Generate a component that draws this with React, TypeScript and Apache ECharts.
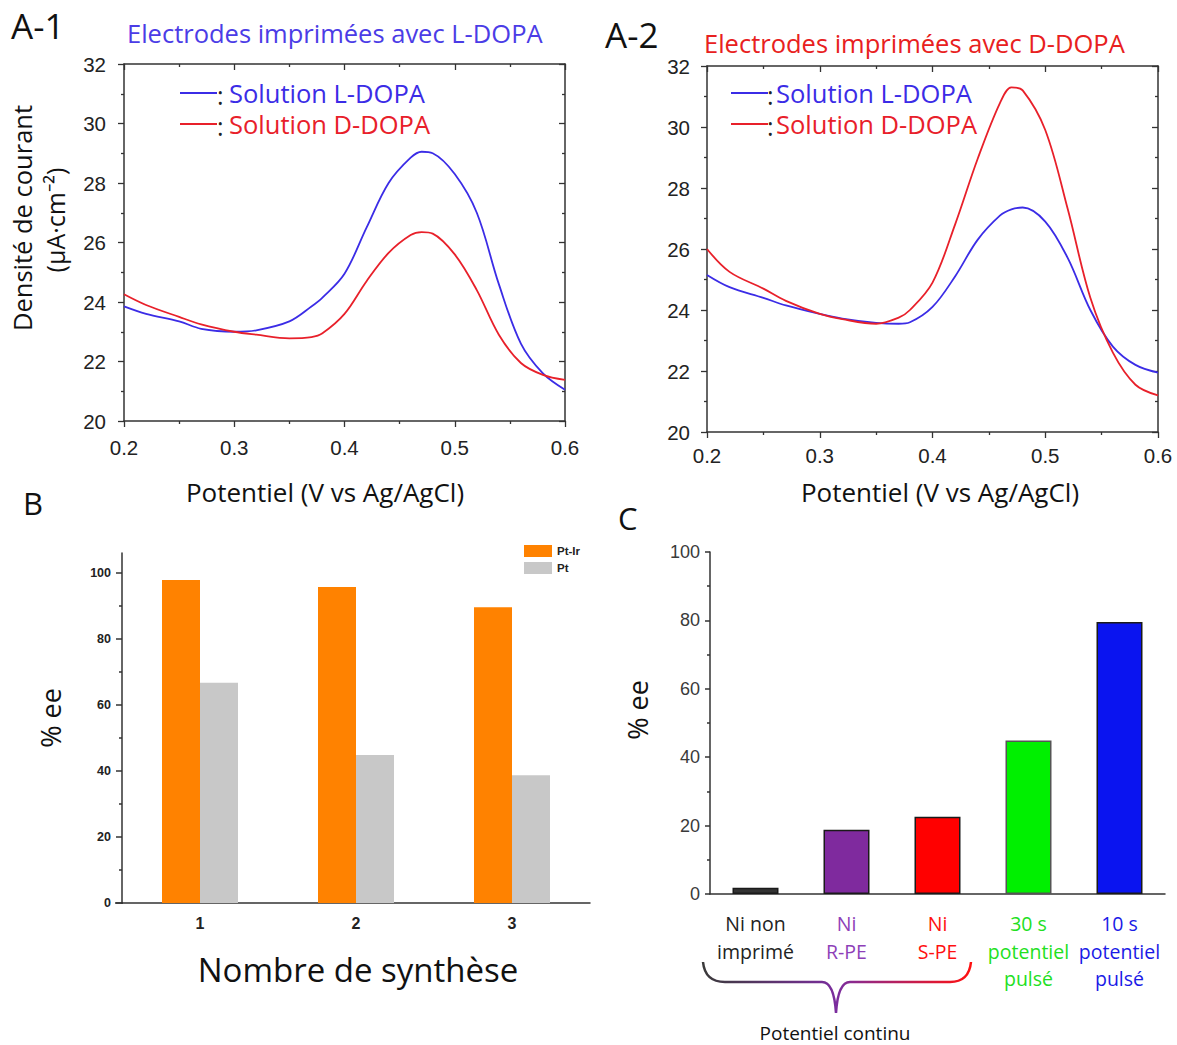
import React, { useEffect, useRef } from 'react';
import * as echarts from 'echarts';

// ---------- DATA ----------
const potentials = [0.2, 0.22, 0.25, 0.27, 0.3, 0.32, 0.35, 0.37, 0.38, 0.4, 0.42, 0.44, 0.46, 0.47, 0.48, 0.5, 0.52, 0.54, 0.56, 0.58, 0.6];
// Panel A-1 (electrodes imprimées avec L-DOPA)
const a1LDopa = [23.85, 23.6, 23.35, 23.1, 23.0, 23.05, 23.35, 23.85, 24.15, 24.95, 26.5, 28.0, 28.85, 29.05, 29.0, 28.3, 27.0, 24.6, 22.6, 21.6, 21.05];
const a1DDopa = [24.26, 23.9, 23.5, 23.25, 23.0, 22.9, 22.78, 22.82, 22.95, 23.6, 24.7, 25.65, 26.25, 26.35, 26.3, 25.6, 24.4, 22.9, 21.95, 21.55, 21.38];
// Panel A-2 (electrodes imprimées avec D-DOPA)
const a2LDopa = [25.15, 24.75, 24.4, 24.15, 23.87, 23.72, 23.58, 23.55, 23.6, 24.1, 25.1, 26.3, 27.1, 27.3, 27.36, 26.9, 25.7, 24.0, 22.8, 22.2, 21.95];
const a2DDopa = [26.0, 25.25, 24.7, 24.3, 23.87, 23.7, 23.55, 23.75, 24.0, 24.9, 26.8, 28.95, 30.8, 31.3, 31.2, 29.9, 27.3, 24.4, 22.6, 21.55, 21.2];

// Panel B
const bCategories = ['1', '2', '3'];
const bPtIr = [97.8, 95.7, 89.6];
const bPt = [66.7, 44.8, 38.7];
const bYLabels = [0, 20, 40, 60, 80, 100];
const bYMinor = [10, 30, 50, 70, 90];

// Panel C
const cCategories = ['Ni non\nimprimé', 'Ni\nR-PE', 'Ni\nS-PE', '30 s\npotentiel\npulsé', '10 s\npotentiel\npulsé'];
const cValues = [1.8, 18.8, 22.6, 44.9, 79.5];
const cBarColors = ['#333333', '#7F2A9E', '#FF0000', '#00F000', '#0A14F0'];
const cLabelColors = ['#222222', '#8E3FB8', '#FF1010', '#22E022', '#1A1AE6'];

// ---------- STYLE ----------
const BLUE = '#3B2CE6';
const RED = '#E8202A';
const AXC = '#333333';
const SANS = '"Open Sans", "Noto Sans", sans-serif';
const ARIAL = '"Liberation Sans", Arial, sans-serif';

const braceD = 'M703 962 Q705 982 725 982 L822 982 Q834 982 836 1013 Q838 982 850 982 L950 982 Q969 982 971 962';
let registered = false;
function registerShapes() {
  if (registered) return;
  registered = true;
  echarts.graphic.registerShape('braceShape', echarts.graphic.extendPath(braceD, {}) as any);
}

function aXAxes(gridIndex: number, margin: number) {
  const common: any = {
    type: 'value', gridIndex, min: 0.2, max: 0.6, interval: 0.1,
    splitLine: { show: false },
    axisLine: { lineStyle: { color: AXC, width: 1.5 } },
    minorTick: { show: true, splitNumber: 2, length: 3, lineStyle: { color: AXC, width: 1.3 } },
  };
  return [
    { ...common, position: 'bottom', axisTick: { inside: false, length: 6, lineStyle: { color: AXC, width: 1.3 } },
      axisLabel: { fontFamily: ARIAL, fontSize: 20.5, color: '#222', margin, formatter: (v: number) => v.toFixed(1) } },
    { ...common, position: 'top', axisTick: { inside: true, length: 6, lineStyle: { color: AXC, width: 1.3 } }, axisLabel: { show: false } },
  ];
}
function aYAxes(gridIndex: number, margin: number) {
  const common: any = {
    type: 'value', gridIndex, min: 20, max: 32, interval: 2,
    splitLine: { show: false },
    axisLine: { show: true, lineStyle: { color: AXC, width: 1.5 } },
    minorTick: { show: true, splitNumber: 2, length: 3, lineStyle: { color: AXC, width: 1.3 } },
  };
  return [
    { ...common, position: 'left', axisTick: { show: true, inside: false, length: 6, lineStyle: { color: AXC, width: 1.3 } },
      axisLabel: { fontFamily: ARIAL, fontSize: 20.5, color: '#222', margin } },
    { ...common, position: 'right', axisTick: { show: true, inside: true, length: 6, lineStyle: { color: AXC, width: 1.3 } }, axisLabel: { show: false } },
  ];
}

function txt(text: string, x: number, y: number, size: number, color: string, opts: any = {}) {
  return {
    type: 'text', x, y, rotation: opts.rotation || 0, silent: true,
    style: {
      text, fill: color, fontSize: size, fontFamily: opts.family || SANS, fontWeight: opts.weight || 'normal',
      align: opts.align || 'left', verticalAlign: 'middle',
      textAlign: opts.align || 'left', textVerticalAlign: 'middle',
    },
  };
}

function line(x1: number, y1: number, x2: number, y2: number, color: string, w = 1.8) {
  return { type: 'line', silent: true, shape: { x1, y1, x2, y2 }, style: { stroke: color, lineWidth: w } };
}

export default function App() {
  const ref = useRef<HTMLDivElement>(null);
  useEffect(() => {
    document.body.style.margin = '0';
    registerShapes();
    const chart = echarts.init(ref.current!, null, { renderer: 'svg' });
    const pts = (arr: number[]) => potentials.map((x, i) => [x, arr[i]]);
    const lineSeries = (name: string, data: number[], color: string, xi: number, yi: number) => ({
      name, type: 'line', xAxisIndex: xi, yAxisIndex: yi, data: pts(data), smooth: 0.35,
      showSymbol: false, symbol: 'none', lineStyle: { color, width: 1.8 }, itemStyle: { color },
    });

    const option: any = {
      animation: false,
      backgroundColor: '#ffffff',
      grid: [
        { left: 124, top: 64, width: 441, height: 357 },
        { left: 707, top: 66, width: 451, height: 366 },
        { left: 122, top: 553, width: 468, height: 350 },
        { left: 710, top: 552, width: 455, height: 342 },
      ],
      xAxis: [
        ...aXAxes(0, 16),
        ...aXAxes(1, 13),
        {
          type: 'category', gridIndex: 2, data: bCategories,
          axisLine: { lineStyle: { color: AXC, width: 1.5 } },
          axisTick: { alignWithLabel: true, length: 6, lineStyle: { color: AXC, width: 1.5 } },
          axisLabel: { fontFamily: ARIAL, fontWeight: 'bold', fontSize: 16, color: '#222', margin: 12 },
        },
        {
          type: 'category', gridIndex: 3,
          data: cCategories.map((c, i) => ({ value: c, textStyle: { color: cLabelColors[i] } })),
          axisLine: { lineStyle: { color: AXC, width: 1.5 } },
          axisTick: { alignWithLabel: true, length: 6, lineStyle: { color: AXC, width: 1.5 } },
          axisLabel: { interval: 0, fontFamily: SANS, fontSize: 19.5, lineHeight: 27.5, margin: 16 },
        },
        {
          type: 'category', gridIndex: 3, data: cCategories, position: 'bottom',
          axisLine: { show: false },
          axisTick: { alignWithLabel: false, length: 4, lineStyle: { color: AXC, width: 1.5 } },
          axisLabel: { show: false },
        },
      ],
      yAxis: [
        ...aYAxes(0, 18),
        ...aYAxes(1, 17),
        {
          type: 'value', gridIndex: 2, min: 0, max: 106, position: 'left',
          splitLine: { show: false },
          axisLine: { show: true, lineStyle: { color: AXC, width: 1.5 } },
          axisTick: { show: true, length: 6, customValues: bYLabels, lineStyle: { color: AXC, width: 1.5 } },
          axisLabel: { customValues: bYLabels, fontFamily: ARIAL, fontWeight: 'bold', fontSize: 12.5, color: '#222', margin: 11 },
        },
        {
          type: 'value', gridIndex: 2, min: 0, max: 106, position: 'left', offset: 0,
          splitLine: { show: false },
          axisLine: { show: false },
          axisTick: { show: true, length: 3, customValues: bYMinor, lineStyle: { color: AXC, width: 1.5 } },
          axisLabel: { show: false },
        },
        {
          type: 'value', gridIndex: 3, min: 0, max: 100, interval: 20,
          splitLine: { show: false },
          axisLine: { show: true, lineStyle: { color: AXC, width: 1.5 } },
          axisTick: { show: true, length: 5, lineStyle: { color: AXC, width: 1.5 } },
          minorTick: { show: true, splitNumber: 2, length: 3, lineStyle: { color: AXC, width: 1.5 } },
          axisLabel: { fontFamily: ARIAL, fontSize: 18, color: '#3a3a3a', margin: 10 },
        },
      ],
      legend: [{
        data: ['Pt-Ir', 'Pt'], orient: 'vertical', left: 524, top: 545, padding: 0,
        itemWidth: 28, itemHeight: 12, itemGap: 5, icon: 'rect', selectedMode: false,
        textStyle: { fontFamily: ARIAL, fontWeight: 'bold', fontSize: 11.5, color: '#222' },
      }],
      series: [
        lineSeries('A1 Solution L-DOPA', a1LDopa, BLUE, 0, 0),
        lineSeries('A1 Solution D-DOPA', a1DDopa, RED, 0, 0),
        lineSeries('A2 Solution L-DOPA', a2LDopa, BLUE, 2, 2),
        lineSeries('A2 Solution D-DOPA', a2DDopa, RED, 2, 2),
        { name: 'Pt-Ir', type: 'bar', xAxisIndex: 4, yAxisIndex: 4, data: bPtIr, barWidth: 38, barGap: '0%', itemStyle: { color: '#FF8200' } },
        { name: 'Pt', type: 'bar', xAxisIndex: 4, yAxisIndex: 4, data: bPt, barWidth: 38, barGap: '0%', itemStyle: { color: '#C8C8C8' } },
        {
          name: 'C', type: 'bar', xAxisIndex: 5, yAxisIndex: 6, barWidth: 46,
          data: cValues.map((v, i) => ({ value: v, itemStyle: { color: cBarColors[i], borderColor: i === 3 ? '#555' : '#1a1a1a', borderWidth: 1.5 } })),
        },
      ],
      graphic: [
        // panel letters
        txt('A-1', 11, 25, 35, '#111'),
        txt('A-2', 605, 34, 35, '#111'),
        txt('B', 23, 503, 31, '#111'),
        txt('C', 618, 518, 31, '#111'),
        // titles
        txt('Electrodes imprimées avec L-DOPA', 127, 33, 25.5, '#4B3CE6'),
        txt('Electrodes imprimées avec D-DOPA', 704, 43, 25.5, '#E82020'),
        // A-1 legend
        line(180, 93, 217, 93, BLUE, 1.8),
        txt(':', 217, 95, 25, '#222'),
        txt('Solution L-DOPA', 229, 93, 25.5, BLUE),
        line(180, 124, 217, 124, RED, 1.8),
        txt(':', 217, 126, 25, '#222'),
        txt('Solution D-DOPA', 229, 124, 25.5, RED),
        // A-2 legend
        line(731, 93, 768, 93, BLUE, 1.8),
        txt(':', 767, 95, 25, '#222'),
        txt('Solution L-DOPA', 776, 93, 25.5, BLUE),
        line(731, 124, 768, 124, RED, 1.8),
        txt(':', 767, 126, 25, '#222'),
        txt('Solution D-DOPA', 776, 124, 25.5, RED),
        // A axis names
        txt('Densité de courant', 22, 218, 25.5, '#111', { rotation: Math.PI / 2, align: 'center' }),
        txt('(µA·cm⁻²)', 55, 220, 25, '#111', { rotation: Math.PI / 2, align: 'center' }),
        txt('Potentiel (V vs Ag/AgCl)', 325, 492, 26, '#111', { align: 'center' }),
        txt('Potentiel (V vs Ag/AgCl)', 940, 492, 26, '#111', { align: 'center' }),
        // B names
        txt('% ee', 50, 718, 27, '#111', { rotation: Math.PI / 2, align: 'center' }),
        txt('Nombre de synthèse', 358, 969, 33, '#111', { align: 'center' }),
        line(115, 903, 123, 903, AXC, 1.5),
        // C names
        txt('% ee', 637, 710, 27, '#111', { rotation: Math.PI / 2, align: 'center' }),
        {
          type: 'braceShape', x: 0, y: 0, silent: true,
          style: {
            fill: 'none', lineWidth: 2.5,
            stroke: new echarts.graphic.LinearGradient(0, 0, 1, 0, [
              { offset: 0, color: '#3a3a3a' },
              { offset: 0.5, color: '#7B2D9E' },
              { offset: 1, color: '#FF1010' },
            ]),
          },
        },
        txt('Potentiel continu', 835, 1033, 19, '#111', { align: 'center' }),
      ],
    };
    chart.setOption(option);
    return () => chart.dispose();
  }, []);
  return <div ref={ref} style={{ position: 'fixed', left: 0, top: 0, width: 1177, height: 1045, background: '#fff' }} />;
}
